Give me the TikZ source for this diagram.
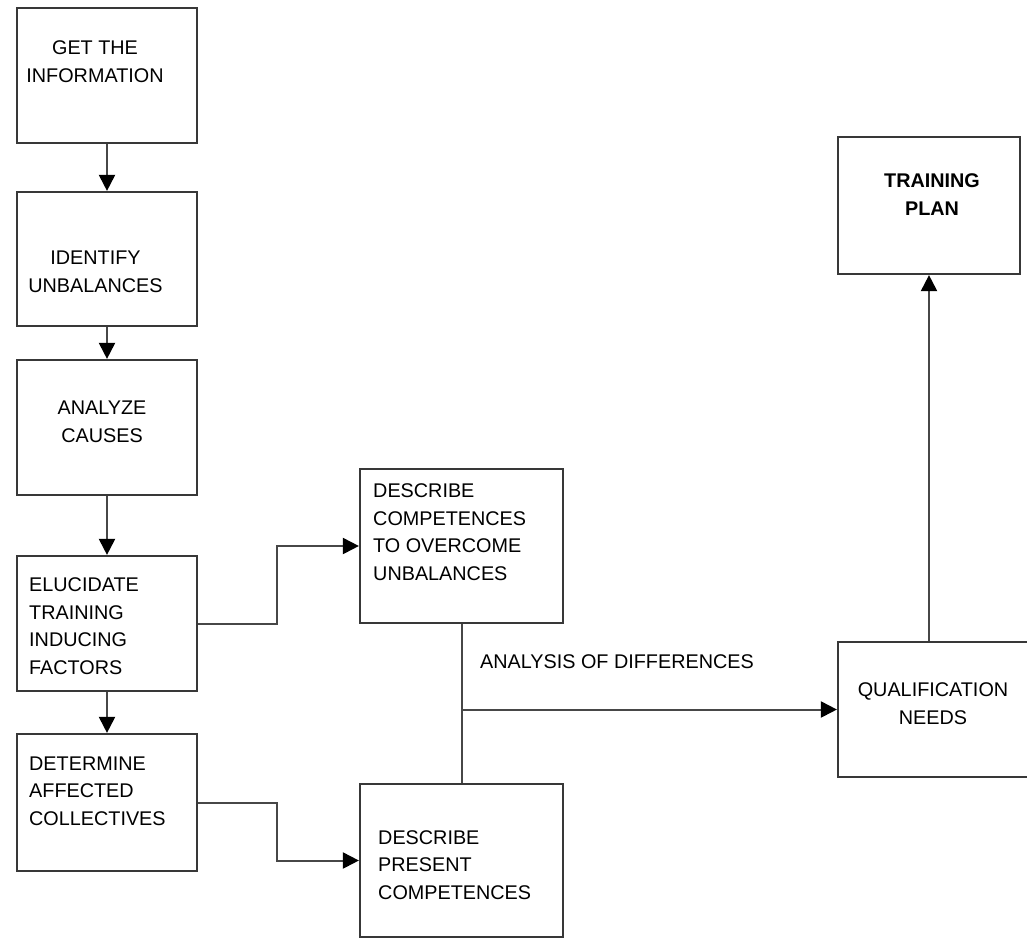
\documentclass[tikz,border=0pt]{standalone}
\usepackage{fontspec}
\setmainfont{Liberation Sans}
\usetikzlibrary{arrows.meta}
\begin{document}
\begin{tikzpicture}[x=1pt,y=-1pt,
  box/.style={draw=black!78,line width=2.2pt,rectangle,inner sep=0pt},
  link/.style={draw=black!72,line width=2pt},
  arr/.style={link,-{Triangle[length=16pt,width=16pt,color=black]}},
  txt/.style={inner sep=0pt,font=\fontsize{19.8}{27.5}\selectfont},
  ctxt/.style={txt,anchor=base,align=center},
  ltxt/.style={txt,anchor=base west,align=left}]
\useasboundingbox (0,0) rectangle (1027,940);
\clip (0,0) rectangle (1027,940);
% boxes, centred on their frames
\node[box,minimum width=180pt,minimum height=135pt] (b1) at (107,75.5) {};
\node[box,minimum width=180pt,minimum height=134pt] (b2) at (107,259) {};
\node[box,minimum width=180pt,minimum height=135pt] (b3) at (107,427.5) {};
\node[box,minimum width=180pt,minimum height=135pt] (b4) at (107,623.5) {};
\node[box,minimum width=180pt,minimum height=137pt] (b5) at (107,802.5) {};
\node[box,minimum width=203pt,minimum height=154pt] (b6) at (461.5,546) {};
\node[box,minimum width=203pt,minimum height=153pt] (b7) at (461.5,860.5) {};
\node[box,minimum width=202pt,minimum height=135pt] (b8) at (939,709.5) {};
\node[box,minimum width=182pt,minimum height=137pt] (b9) at (929,205.5) {};
% labels (base anchor sits on the last line)
\node[ctxt] (t1) at (95,82) {GET THE\\INFORMATION};
\node[ctxt] (t2) at (95.5,292) {IDENTIFY\\UNBALANCES};
\node[ctxt] (t3) at (102,442) {ANALYZE\\CAUSES};
\node[ltxt] (t4) at (29,674) {ELUCIDATE\\TRAINING\\INDUCING\\FACTORS};
\node[ltxt] (t5) at (29,825) {DETERMINE\\AFFECTED\\COLLECTIVES};
\node[ltxt] (t6) at (373,580) {DESCRIBE\\COMPETENCES\\TO OVERCOME\\UNBALANCES};
\node[ltxt] (t7) at (378,899) {DESCRIBE\\PRESENT\\COMPETENCES};
\node[ctxt] (t8) at (933,724) {QUALIFICATION\\NEEDS};
\node[ctxt,font=\fontsize{19.8}{27.5}\selectfont\bfseries] (t9) at (932,215) {TRAINING\\PLAN};
\node[txt,anchor=base west] (ad) at (480,668) {ANALYSIS OF DIFFERENCES};
% connectors
\draw[arr] (b1.south) -- (b2.north);
\draw[arr] (b2.south) -- (b3.north);
\draw[arr] (b3.south) -- (b4.north);
\draw[arr] (b4.south) -- (b5.north);
\draw[arr] (b4.east) -- ++(79,0) |- (b6.west);
\draw[arr] (b5.east) -- ++(79,0) |- (b7.west);
\draw[link] (b6.south) -- (b7.north);
\draw[arr] (b8.west -| b6.south) -- (b8.west);
\draw[arr] (b9.south |- b8.north) -- (b9.south);
\end{tikzpicture}
\end{document}
